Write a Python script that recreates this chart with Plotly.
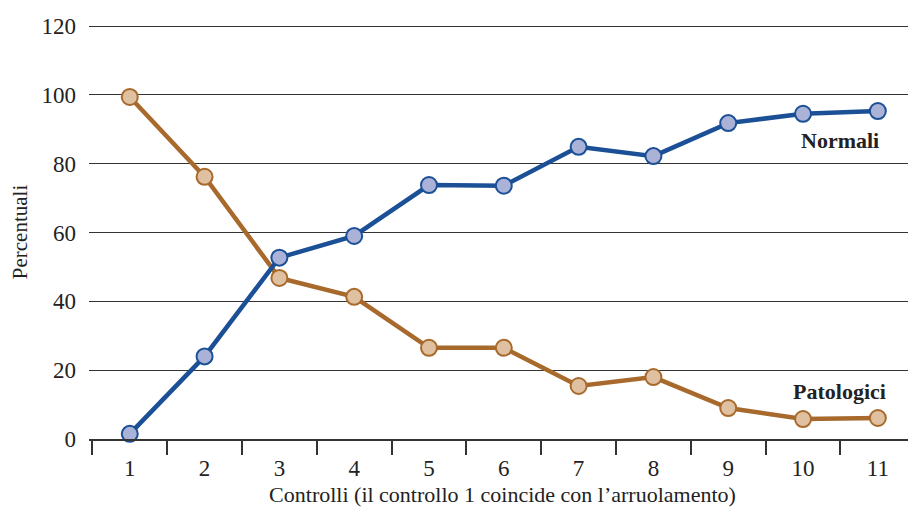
import plotly.graph_objects as go

controlli = [1, 2, 3, 4, 5, 6, 7, 8, 9, 10, 11]
normali = [1.5, 24, 52.7, 59, 73.8, 73.6, 84.9, 82.2, 91.8, 94.5, 95.3]
patologici = [99.4, 76.2, 46.8, 41.3, 26.5, 26.5, 15.4, 18.0, 9.0, 5.8, 6.1]
y_ticks = [0, 20, 40, 60, 80, 100, 120]

FONT = "Liberation Serif"
BLUE = "#1b4f96"
BLUE_FILL = "#aab3d7"
BROWN = "#a86a2c"
BROWN_FILL = "#dfc1a1"

fig = go.Figure()
fig.add_trace(go.Scatter(
    x=controlli, y=patologici, mode="lines+markers",
    line=dict(color=BROWN, width=4.5),
    marker=dict(size=16, color=BROWN_FILL, line=dict(color=BROWN, width=2)),
    cliponaxis=False, showlegend=False))
fig.add_trace(go.Scatter(
    x=controlli, y=normali, mode="lines+markers",
    line=dict(color=BLUE, width=4.5),
    marker=dict(size=16, color=BLUE_FILL, line=dict(color=BLUE, width=2)),
    cliponaxis=False, showlegend=False))

fig.add_annotation(x=10.5, y=86.7, text="<b>Normali</b>", showarrow=False,
                   font=dict(family=FONT, size=22, color="#222"))
fig.add_annotation(x=10.49, y=13.8, text="<b>Patologici</b>", showarrow=False,
                   font=dict(family=FONT, size=22, color="#222"))

fig.update_layout(
    width=908, height=502,
    margin=dict(l=81, r=0, t=17, b=71),
    plot_bgcolor="white", paper_bgcolor="white",
    font=dict(family=FONT, size=23, color="#222"),
    xaxis=dict(
        range=[0.455, 11.51], tickmode="array", tickvals=controlli,
        showgrid=False, zeroline=False, showline=True, linecolor="#333", linewidth=1.5,
        ticks="", ticklabelstandoff=8,
        title=dict(text="Controlli (il controllo 1 coincide con l\u2019arruolamento)",
                   standoff=6, font=dict(size=22)),
        minor=dict(tickmode="array", tickvals=[c - 0.5 for c in controlli],
                   ticks="outside", ticklen=14, tickcolor="#333", tickwidth=1.5),
    ),
    yaxis=dict(
        range=[0, 120.3], tickmode="array", tickvals=y_ticks,
        showgrid=True, gridcolor="#333", gridwidth=1, zeroline=False,
        showline=False, ticks="", ticklabelstandoff=12,
        title=dict(text="Percentuali", standoff=12, font=dict(size=21)),
    ),
)

fig.write_html("out.html")
